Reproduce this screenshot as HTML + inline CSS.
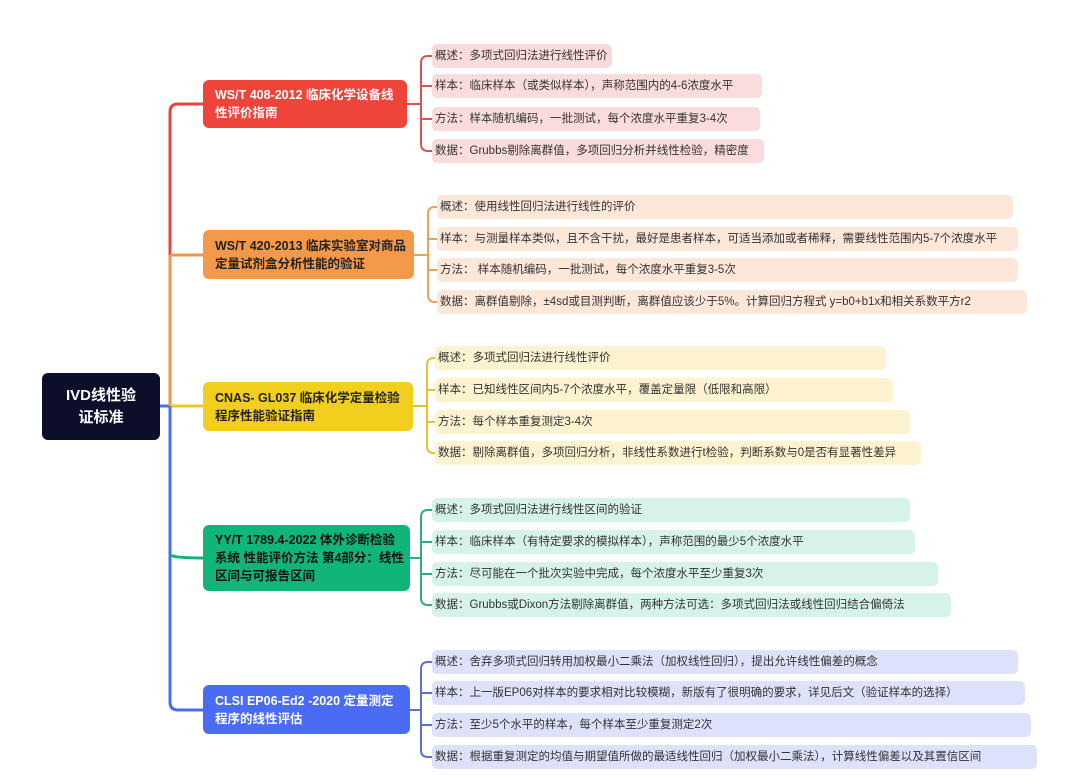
<!DOCTYPE html>
<html><head><meta charset="utf-8"><style>
body{margin:0;width:1080px;height:784px;background:#fff;position:relative;overflow:hidden;font-family:"Liberation Sans","Noto Sans CJK SC",sans-serif}
.b{position:absolute;border-radius:6px;color:#fff;font-weight:bold;font-size:12.5px;line-height:18px;padding:0 6px 0 12px;box-sizing:border-box;display:flex;align-items:center}
.l{position:absolute;border-radius:5px;font-size:11.5px;color:#333;height:24px;line-height:24px;padding-left:3px;box-sizing:border-box;white-space:nowrap}
svg{position:absolute;left:0;top:0}
</style></head><body>
<svg width="1080" height="784" fill="none" stroke-width="3">
<path d="M160 406 H170" stroke="#4a6cf0"/>
<path d="M203 104 H178 Q170 104 170 112 V255" stroke="#e8443c"/>
<path d="M170 255 V406" stroke="#f0944a"/>
<path d="M170 255 Q172 255 203 255" stroke="#f0944a"/>
<path d="M170 406 H203" stroke="#f0c820"/>
<path d="M170 406 V702 Q170 710 178 710 H203" stroke="#4a6cf0"/>
<path d="M170 555 Q175 558 203 558" stroke="#10b07a"/>
<g stroke-width="2">
<path d="M407 104 H421 M432 56 H428 Q421 56 421 63 V144 Q421 151 428 151 H432 M421 86 H432 M421 119 H432" stroke="#d9534f"/>
<path d="M414 255 H428 M437 207 H435 Q428 207 428 214 V295 Q428 302 435 302 H437 M428 239 H437 M428 270 H437" stroke="#e8a060"/>
<path d="M413 406 H427 M435 358 H434 Q427 358 427 365 V446 Q427 453 434 453 H435 M427 390 H435 M427 422 H435" stroke="#e6c030"/>
<path d="M410 558 H421 M432 510 H428 Q421 510 421 517 V598 Q421 605 428 605 H432 M421 542 H432 M421 574 H432" stroke="#2fae7a"/>
<path d="M410 710 H421 M432 662 H428 Q421 662 421 669 V750 Q421 757 428 757 H432 M421 693 H432 M421 725 H432" stroke="#5a70d8"/>
</g>
</svg>
<div class="b" style="left:42px;top:373px;width:118px;height:67px;background:#0d0f2a;justify-content:center;text-align:center;font-size:15px;line-height:22px;padding:0">IVD线性验<br>证标准</div>
<div class="b" style="left:203px;top:80px;width:204px;height:48px;background:#ee443a">WS/T 408-2012 临床化学设备线性评价指南</div>
<div class="b" style="left:203px;top:230px;width:211px;height:49px;background:#f4994a;color:#222">WS/T 420-2013 临床实验室对商品定量试剂盒分析性能的验证</div>
<div class="b" style="left:203px;top:382px;width:210px;height:49px;background:#f2ce1e;color:#222">CNAS- GL037 临床化学定量检验程序性能验证指南</div>
<div class="b" style="left:203px;top:525px;width:207px;height:66px;background:#10b578;color:#111">YY/T 1789.4-2022 体外诊断检验系统 性能评价方法 第4部分：线性区间与可报告区间</div>
<div class="b" style="left:203px;top:685px;width:207px;height:49px;background:#4a6cf4">CLSI EP06-Ed2 -2020 定量测定程序的线性评估</div>

<div class="l" style="left:432px;top:44px;width:180px;background:#fbdcdc">概述：多项式回归法进行线性评价</div>
<div class="l" style="left:432px;top:74px;width:330px;background:#fbdcdc">样本：临床样本（或类似样本），声称范围内的4-6浓度水平</div>
<div class="l" style="left:432px;top:107px;width:328px;background:#fbdcdc">方法：样本随机编码，一批测试，每个浓度水平重复3-4次</div>
<div class="l" style="left:432px;top:139px;width:332px;background:#fbdcdc">数据：Grubbs剔除离群值，多项回归分析并线性检验，精密度</div>

<div class="l" style="left:437px;top:195px;width:576px;background:#fde7d8">概述：使用线性回归法进行线性的评价</div>
<div class="l" style="left:437px;top:227px;width:581px;background:#fde7d8">样本：与测量样本类似，且不含干扰，最好是患者样本，可适当添加或者稀释，需要线性范围内5-7个浓度水平</div>
<div class="l" style="left:437px;top:258px;width:581px;background:#fde7d8">方法：&nbsp;样本随机编码，一批测试，每个浓度水平重复3-5次</div>
<div class="l" style="left:437px;top:290px;width:590px;background:#fde7d8">数据：离群值剔除，±4sd或目测判断，离群值应该少于5%。计算回归方程式 y=b0+b1x和相关系数平方r2</div>

<div class="l" style="left:435px;top:346px;width:451px;background:#fdf3d0">概述：多项式回归法进行线性评价</div>
<div class="l" style="left:435px;top:378px;width:458px;background:#fdf3d0">样本：已知线性区间内5-7个浓度水平，覆盖定量限（低限和高限）</div>
<div class="l" style="left:435px;top:410px;width:475px;background:#fdf3d0">方法：每个样本重复测定3-4次</div>
<div class="l" style="left:435px;top:441px;width:486px;background:#fdf3d0">数据：剔除离群值，多项回归分析，非线性系数进行t检验，判断系数与0是否有显著性差异</div>

<div class="l" style="left:432px;top:498px;width:478px;background:#d6f3e8">概述：多项式回归法进行线性区间的验证</div>
<div class="l" style="left:432px;top:530px;width:483px;background:#d6f3e8">样本：临床样本（有特定要求的模拟样本），声称范围的最少5个浓度水平</div>
<div class="l" style="left:432px;top:562px;width:506px;background:#d6f3e8">方法：尽可能在一个批次实验中完成，每个浓度水平至少重复3次</div>
<div class="l" style="left:432px;top:593px;width:519px;background:#d6f3e8">数据：Grubbs或Dixon方法剔除离群值，两种方法可选：多项式回归法或线性回归结合偏倚法</div>

<div class="l" style="left:432px;top:650px;width:586px;background:#dde2fa">概述：舍弃多项式回归转用加权最小二乘法（加权线性回归），提出允许线性偏差的概念</div>
<div class="l" style="left:432px;top:681px;width:593px;background:#dde2fa">样本：上一版EP06对样本的要求相对比较模糊，新版有了很明确的要求，详见后文（验证样本的选择）</div>
<div class="l" style="left:432px;top:713px;width:599px;background:#dde2fa">方法：至少5个水平的样本，每个样本至少重复测定2次</div>
<div class="l" style="left:432px;top:745px;width:605px;background:#dde2fa">数据：根据重复测定的均值与期望值所做的最适线性回归（加权最小二乘法），计算线性偏差以及其置信区间</div>
</body></html>
